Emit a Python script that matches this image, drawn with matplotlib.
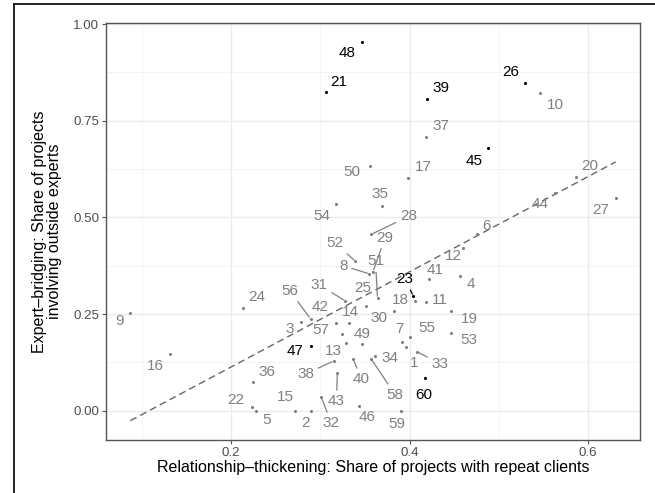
import numpy as np
import matplotlib
matplotlib.use("Agg")
import matplotlib.pyplot as plt
from matplotlib.lines import Line2D

plt.rcParams['font.family'] = ['Liberation Sans', 'DejaVu Sans']

# ---------------- data ----------------
ids = list(range(1, 61))
repeat_share = [0.396, 0.289, 0.278, 0.456, 0.228, 0.476, 0.391, 0.355, 0.087, 0.546,
                0.418, 0.460, 0.329, 0.332, 0.272, 0.131, 0.398, 0.406, 0.446, 0.586,
                0.306, 0.223, 0.404, 0.213, 0.351, 0.529, 0.631, 0.357, 0.359, 0.382,
                0.328, 0.301, 0.408, 0.361, 0.369, 0.225, 0.418, 0.315, 0.419, 0.337,
                0.422, 0.317, 0.319, 0.563, 0.488, 0.343, 0.289, 0.347, 0.347, 0.356,
                0.364, 0.339, 0.446, 0.317, 0.400, 0.289, 0.324, 0.357, 0.390, 0.417]
expert_share = [0.164, 0.000, 0.230, 0.348, 0.000, 0.456, 0.178, 0.354, 0.252, 0.822,
                0.280, 0.420, 0.174, 0.228, 0.000, 0.146, 0.603, 0.284, 0.259, 0.604,
                0.823, 0.010, 0.297, 0.267, 0.270, 0.847, 0.551, 0.456, 0.360, 0.257,
                0.284, 0.035, 0.153, 0.142, 0.530, 0.074, 0.709, 0.129, 0.807, 0.133,
                0.342, 0.228, 0.097, 0.562, 0.679, 0.012, 0.167, 0.954, 0.173, 0.634,
                0.291, 0.387, 0.200, 0.535, 0.192, 0.238, 0.198, 0.134, 0.000, 0.084]
highlighted = [21, 23, 26, 39, 45, 47, 48, 60]

x_ticks = [0.2, 0.4, 0.6]
y_ticks = [0.00, 0.25, 0.50, 0.75, 1.00]
y_tick_labels = ["0.00", "0.25", "0.50", "0.75", "1.00"]
x_title = "Relationship\u2013thickening: Share of projects with repeat clients"
y_title = "Expert\u2013bridging: Share of projects\ninvolving outside experts"

# ---------------- layout (label offsets in pixels: dx right, dy down) ----------------
label_offsets = {
    1: (8, 16), 2: (-5, 12), 3: (-11, 7), 4: (11, 8), 5: (10, 9), 6: (9, -8),
    7: (-2, -13), 8: (-26, -8), 9: (-11, 8), 10: (15, 12), 11: (14, -2),
    12: (-10, 8), 13: (-13, 8), 14: (1, -11), 15: (-10, -14), 16: (-14, 12),
    17: (15, -11), 18: (-15, -1), 19: (19, 8), 20: (14, -11), 21: (13, -10),
    22: (-16, -7), 23: (-8, -17), 24: (14, -11), 25: (-3, -18), 26: (-14, -11),
    27: (-15, 12), 28: (37, -18), 29: (12, -34), 30: (-15, 7), 31: (-26, -16),
    32: (10, 26), 33: (23, 12), 34: (15, 2), 35: (-2, -12), 36: (13, -10),
    37: (15, -11), 38: (-28, 13), 39: (14, -11), 40: (8, 20), 41: (6, -9),
    42: (-15, -16), 43: (-1, 28), 44: (-15, 11), 45: (-14, 13), 46: (8, 11),
    47: (-16, 5), 48: (-15, 11), 49: (0, -10), 50: (-19, 6), 51: (-2, -37),
    52: (-20, -18), 53: (18, 7), 54: (-14, 12), 55: (17, -9), 56: (-21, -28),
    57: (-21, -4), 58: (24, 36), 59: (-4, 13), 60: (-1, 17),
}
segment_ids = {8, 23, 28, 29, 31, 32, 33, 38, 40, 43, 51, 52, 56, 58}

W, H = 655, 493
fig = plt.figure(figsize=(W / 100, H / 100), dpi=100)
ax = fig.add_axes([106 / W, 1 - 440 / H, (640 - 106) / W, (440 - 23) / H])

gray = '#808080'
ax.set_xlim(0.0597, 0.6582)
ax.set_ylim(-0.0755, 1.0026)

# grid
ax.set_xticks(x_ticks)
ax.set_xticklabels([f"{v:.1f}" for v in x_ticks])
ax.set_yticks(y_ticks)
ax.set_yticklabels(y_tick_labels)
ax.set_xticks([0.1, 0.3, 0.5], minor=True)
ax.set_yticks([0.125, 0.375, 0.625, 0.875], minor=True)
ax.grid(True, which='major', color='#ebebeb', linewidth=1.0)
ax.grid(True, which='minor', color='#f2f2f2', linewidth=0.6)
ax.set_axisbelow(True)
ax.tick_params(which='minor', length=0)
ax.tick_params(which='major', length=3, width=0.8, color='#555555',
               labelcolor='#4d4d4d', labelsize=9.6, pad=2)
for s in ax.spines.values():
    s.set_color('#555555')
    s.set_linewidth(1.0)

# regression line (least squares on the data)
xs = np.array(repeat_share)
ys = np.array(expert_share)
b, a = np.polyfit(xs, ys, 1)
xl = np.array([xs.min(), xs.max()])
ax.plot(xl, a + b * xl, color='#666666', linewidth=1.0, linestyle=(0, (5, 3)), zorder=2)

# points and labels
for i, xv, yv in zip(ids, repeat_share, expert_share):
    c = 'black' if i in highlighted else gray
    ax.scatter([xv], [yv], s=5, color=c, zorder=3, linewidths=0)
    dx, dy = label_offsets[i]
    kw = {}
    if i in segment_ids:
        kw['arrowprops'] = dict(arrowstyle='-', color=c, linewidth=0.9,
                                shrinkA=1, shrinkB=1.5)
    ax.annotate(str(i), xy=(xv, yv), xytext=(dx, -dy), textcoords='offset pixels',
                ha='center', va='center', fontsize=11, color=c, zorder=4, **kw)

ax.set_xlabel(x_title, fontsize=11.5, color='black', labelpad=1)
ax.set_ylabel(y_title, fontsize=11.5, color='black', labelpad=8, linespacing=1.0)

# outer frame lines (top and left)
fig.add_artist(Line2D([14 / W, 14 / W], [0, 1 - 4 / H], color='black', linewidth=1.2,
                      transform=fig.transFigure))
fig.add_artist(Line2D([14 / W, 1], [1 - 4 / H, 1 - 4 / H], color='black', linewidth=1.2,
                      transform=fig.transFigure))

fig.savefig('out.png', dpi=100)
